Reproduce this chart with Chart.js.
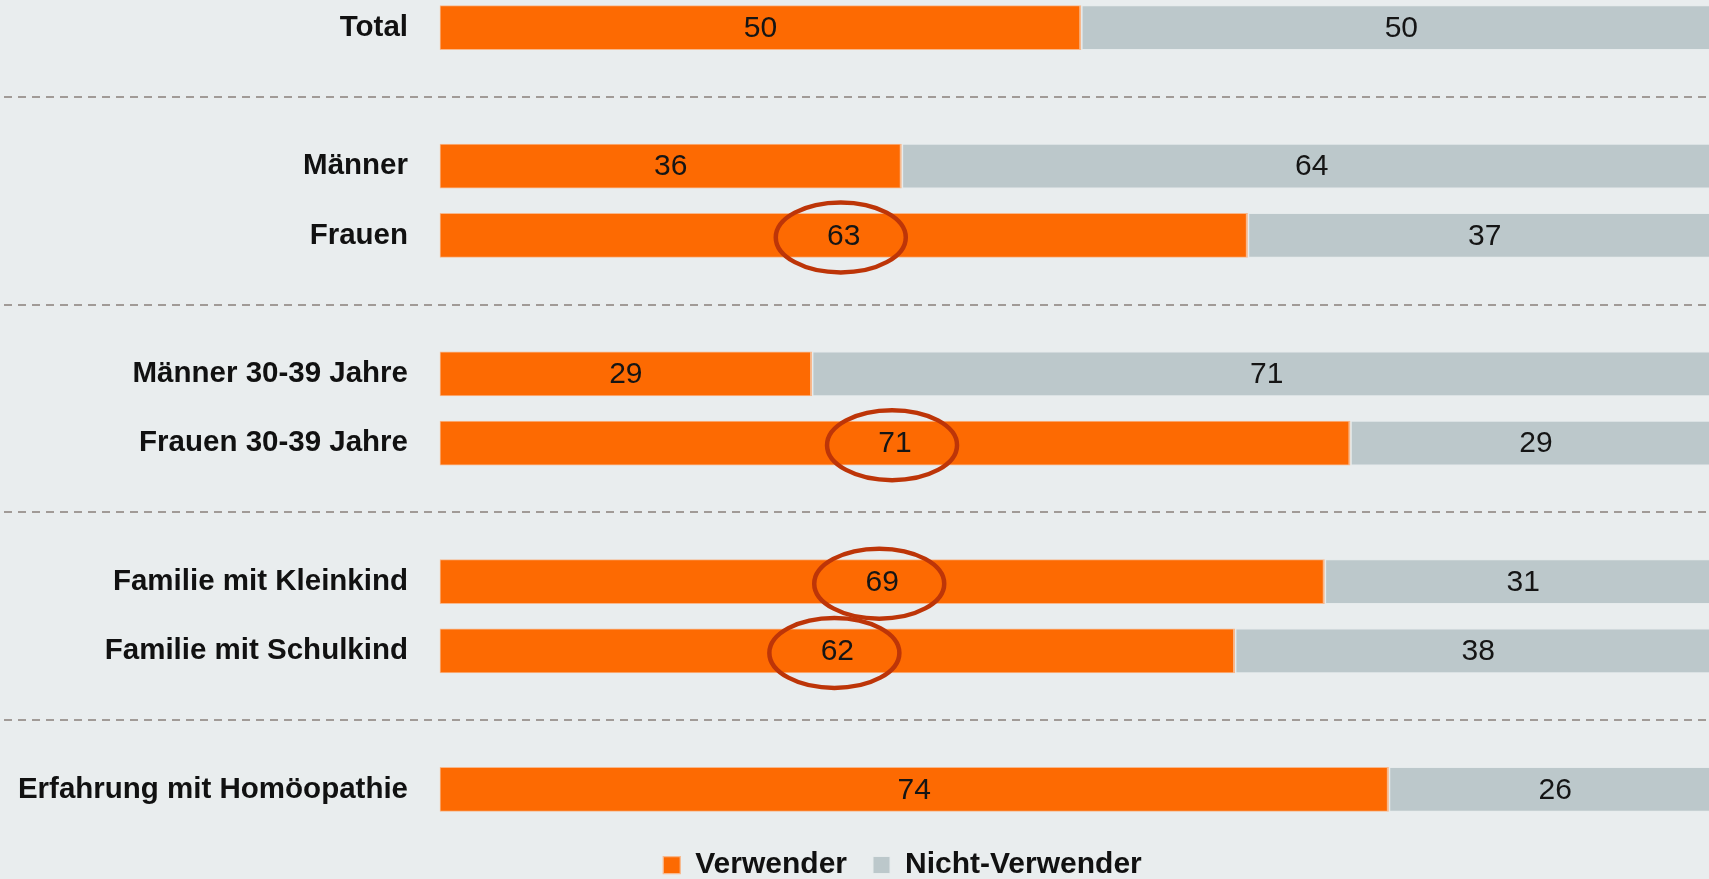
<!DOCTYPE html>
<html>
<head>
<meta charset="utf-8">
<script src="https://cdn.jsdelivr.net/npm/chart.js@4"></script>
<style>
  html, body { margin: 0; padding: 0; background: #e9edee; overflow: hidden; }
  #wrap { position: absolute; left: 0; top: -7px; width: 1709px; height: 897px; }
</style>
</head>
<body>
<div id="wrap"><canvas id="chart"></canvas></div>
<script>
// rows ("" = spacer row with a dashed separator)
const categories = [
  "Total", "",
  "Männer", "Frauen", "",
  "Männer 30-39 Jahre", "Frauen 30-39 Jahre", "",
  "Familie mit Kleinkind", "Familie mit Schulkind", "",
  "Erfahrung mit Homöopathie"
];
const users    = [50, null, 36, 63, null, 29, 71, null, 69, 62, null, 74];
const nonUsers = [50, null, 64, 37, null, 71, 29, null, 31, 38, null, 26];
const seriesNames = ["Verwender", "Nicht-Verwender"];
const highlighted = ["Frauen", "Frauen 30-39 Jahre", "Familie mit Kleinkind", "Familie mit Schulkind"];

const ORANGE = "#fd6a02";
const GREY = "#bcc8cb";
const FONT = '"Liberation Sans", Arial, sans-serif';

// dashed separators across the whole width, at spacer rows
const separators = {
  id: "separators",
  beforeDatasetsDraw(chart) {
    const { ctx } = chart;
    const y = chart.scales.y;
    ctx.save();
    ctx.strokeStyle = "#a19b97";
    ctx.lineWidth = 2;
    ctx.setLineDash([8, 6]);
    categories.forEach((c, i) => {
      if (c !== "") return;
      const py = Math.round(y.getPixelForValue(i));
      ctx.beginPath();
      ctx.moveTo(4, py);
      ctx.lineTo(chart.width, py);
      ctx.stroke();
    });
    ctx.restore();
  }
};

// numbers in the middle of each segment + ellipses
const valueLabels = {
  id: "valueLabels",
  afterDatasetsDraw(chart) {
    const { ctx } = chart;
    ctx.save();
    ctx.font = "30px " + FONT;
    ctx.fillStyle = "#151515";
    ctx.textAlign = "center";
    ctx.textBaseline = "middle";
    chart.data.datasets.forEach((ds, di) => {
      const meta = chart.getDatasetMeta(di);
      meta.data.forEach((el, i) => {
        if (ds.data[i] == null) return;
        const cx = (el.x + el.base) / 2;
        ctx.fillText(String(ds.data[i]), cx, el.y + 1);
      });
    });
    // ellipses round the highlighted orange values
    const meta0 = chart.getDatasetMeta(0);
    ctx.strokeStyle = "#bd3508";
    ctx.lineWidth = 4.5;
    highlighted.forEach((name) => {
      const i = categories.indexOf(name);
      const el = meta0.data[i];
      const cx = (el.x + el.base) / 2 - 3;
      ctx.beginPath();
      ctx.ellipse(cx, el.y + 2, 65, 35, 0, 0, Math.PI * 2);
      ctx.stroke();
    });
    ctx.restore();
  }
};

// legend sits a bit right of the page centre in the original
const legendShift = {
  id: "legendShift",
  afterLayout(chart) {
    if (chart.legend) chart.legend.left = 96;
  }
};

new Chart(document.getElementById("chart"), {
  type: "bar",
  data: {
    labels: categories,
    datasets: [
      {
        label: seriesNames[0],
        data: users,
        backgroundColor: ORANGE,
        borderColor: "#f8b88c",
        borderWidth: { top: 1, bottom: 1, left: 1, right: 2 },
        borderSkipped: false,
        barThickness: 44,
        clip: false
      },
      {
        label: seriesNames[1],
        data: nonUsers,
        backgroundColor: GREY,
        borderColor: "#e6ebec",
        borderWidth: { top: 1, bottom: 1, left: 2, right: 0 },
        borderSkipped: false,
        barThickness: 44
      }
    ]
  },
  options: {
    indexAxis: "y",
    responsive: true,
    maintainAspectRatio: false,
    animation: false,
    layout: { autoPadding: false, padding: 0 },
    scales: {
      x: {
        stacked: true,
        display: false,
        min: 0,
        max: 99
      },
      y: {
        stacked: true,
        offset: true,
        grid: { display: false, drawTicks: false },
        border: { display: false },
        ticks: {
          padding: 32,
          color: "#111",
          font: { family: FONT, size: 29.5, weight: "bold" }
        },
        afterFit(scale) {
          scale.width = 440;
          scale.paddingTop = 0;
          scale.paddingBottom = 0;
        }
      }
    },
    plugins: {
      legend: {
        position: "bottom",
        labels: {
          boxWidth: 17,
          boxHeight: 17,
          padding: 26,
          color: "#111",
          font: { family: FONT, size: 30, weight: "bold" }
        }
      },
      tooltip: { enabled: false }
    }
  },
  plugins: [separators, valueLabels, legendShift]
});
</script>
</body>
</html>
